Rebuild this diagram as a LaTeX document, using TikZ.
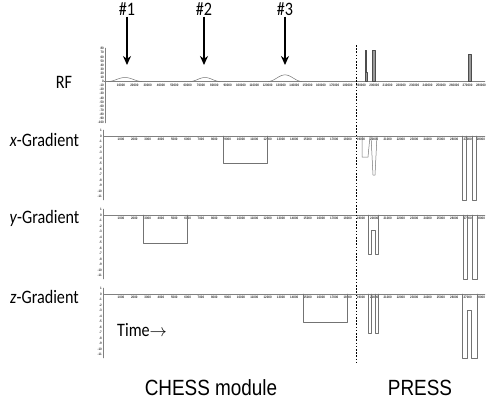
\documentclass[tikz,border=0pt]{standalone}
\usepackage{fontspec}
\setmainfont[FakeStretch=0.86]{Liberation Sans}
\newfontfamily\calib[FakeStretch=0.85]{Carlito}
\usetikzlibrary{arrows.meta}
\tikzset{
	lab/.style={font=\calib\fontsize{19}{22}\selectfont, inner sep=1pt},
	big/.style={font=\fontsize{22}{24}\selectfont, inner sep=0pt, anchor=base},
	tlab/.style={font=\bfseries\fontsize{3.4}{3.5}\selectfont, text=black!80, inner sep=0pt},
	axis/.style={draw=black!50, line width=0.4pt},
	wave/.style={draw=black!55, line width=0.5pt},
	spike/.style={draw=black!70, fill=black!40, line width=0.5pt}
}
\begin{document}
\begin{tikzpicture} [>={Stealth[length=9pt,width=8pt]}, line join=round, line cap=round, x=1pt, y=-1pt]
	\useasboundingbox (0,0) rectangle (487,400);
	\def\xa{104};\def\xb{485};\def\xd{356.5};
	\def\yr{81.5};\def\yx{136};\def\yy{215};\def\yz{294};
	% gradient panel: name, zero line
	\def\gpanel#1#2{
		\draw[axis] (\xa,#2) -- (\xb,#2);
		\draw[axis] (\xa-1,#2-6) -- (\xa-1,#2+64);
		\foreach \i in {1,...,28}
			\node[tlab] (#1t\i) at ({121+13.33*(\i-1)},#2+3.5) {\the\numexpr\i*1000\relax};
		\foreach \v in {1,0,...,-11}
			\node[tlab,anchor=east] (#1v\v) at (\xa-2,#2-5.5*\v) {\v};
	}
	% arrows to the CHESS pulses
	\node[lab] (n1) at (127,9) {\#1};
	\node[lab] (n2) at (204,9) {\#2};
	\node[lab] (n3) at (285,9) {\#3};
	\coordinate (a1) at (127,65);
	\coordinate (a2) at (204,65);
	\coordinate (a3) at (285,65);
	\foreach \k in {1,2,3}
		\draw[->, line width=1.5pt, line cap=butt] (n\k) -- (a\k);
	% RF
	\node[lab] (rf) at (64,82) {RF};
	\draw[axis] (\xa,\yr) -- (\xb,\yr);
	\draw[axis] (\xa+1,48) -- (\xa+1,123);
	\foreach \i in {1,...,28}
		\node[tlab] (rft\i) at ({121+13.33*(\i-1)},\yr+3.5) {\the\numexpr\i*10000\relax};
	\foreach \v in {80,70,...,-100}
		\node[tlab,anchor=east] (rfv\v) at (\xa,\yr-0.41*\v) {\v};
	\draw[wave] plot[domain=108:142, samples=40] (\x,{\yr-2*(1-cos(360*(\x-108)/34))});
	\draw[wave] plot[domain=190:220, samples=40] (\x,{\yr-2*(1-cos(360*(\x-190)/30))});
	\draw[wave] plot[domain=268:302, samples=40] (\x,{\yr-3.3*(1-cos(360*(\x-268)/34))});
	\draw[spike] (365.6,\yr) rectangle (366.6,50);
	\draw[spike] (364.8,\yr) rectangle (367.4,72);
	\draw[spike] (372,\yr) rectangle (375,50);
	\draw[spike] (468.5,\yr) rectangle (471,54);
	% x-Gradient
	\node[lab] (xg) at (44.5,140) {\textit{x}-Gradient};
	\gpanel{xg}{\yx}
	\draw[wave] (223,\yx) -- (223,163) -- (267,163) -- (267,\yx);
	\draw[wave] (362,\yx) -- (362,157) -- (368,157) -- (370,\yx);
	\draw[wave] (371,\yx) -- (373,175) -- (375,175) -- (377,\yx);
	\draw[wave] (462,\yx) -- (462,200) -- (466,200) -- (466,\yx);
	\draw[wave] (472,\yx) -- (472,200) -- (476,200) -- (476,\yx);
	% y-Gradient
	\node[lab] (yg) at (44.5,218) {\textit{y}-Gradient};
	\gpanel{yg}{\yy}
	\draw[wave] (143,\yy) -- (143,243) -- (187,243) -- (187,\yy);
	\draw[wave] (368,\yy) -- (368,254) -- (371,254) -- (371,230) -- (375,230) -- (375,254) -- (378,254) -- (378,\yy);
	\draw[wave] (463,\yy) -- (463,279) -- (467,279) -- (467,\yy);
	\draw[wave] (472,\yy) -- (472,279) -- (477,279) -- (477,\yy);
	% z-Gradient
	\node[lab] (zg) at (44.5,297) {\textit{z}-Gradient};
	\gpanel{zg}{\yz}
	\draw[wave] (303,\yz) -- (303,322) -- (347,322) -- (347,\yz);
	\draw[wave] (368,\yz) -- (368,333) -- (371,333) -- (371,\yz);
	\draw[wave] (375,\yz) -- (375,333) -- (378,333) -- (378,\yz);
	\draw[wave] (462,\yz) -- (462,358) -- (467,358) -- (467,310) -- (471,310) -- (471,358) -- (477,358) -- (477,\yz);
	\node[lab, anchor=west] (time) at (116,330) {Time$\rightarrow$};
	% module border
	\coordinate (top) at (\xd,45);
	\coordinate (bot) at (\xd,364);
	\draw[line width=1.6pt, line cap=butt, dash pattern=on 1.6pt off 1.6pt] (top) -- (bot);
	\node[big] (chess) at (211,395) {CHESS module};
	\node[big] (press) at (420,395) {PRESS};
\end{tikzpicture}
\end{document}
